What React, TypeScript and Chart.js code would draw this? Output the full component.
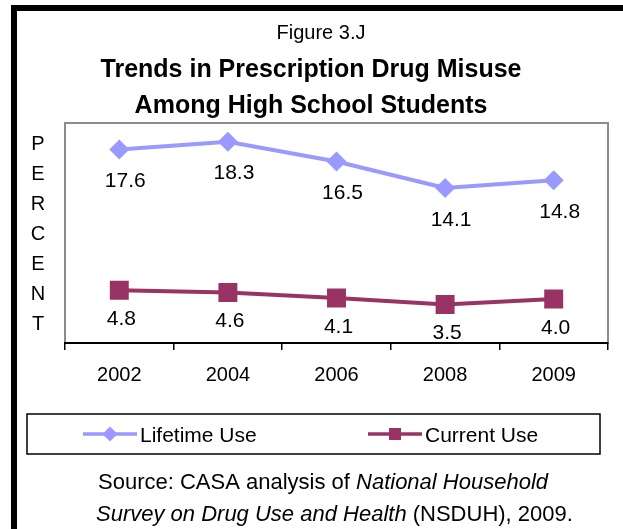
import React, { useEffect, useRef } from 'react';
import { Chart, registerables } from 'chart.js';

Chart.register(...registerables);

const years = ['2002', '2004', '2006', '2008', '2009'];
const lifetimeUse = [17.6, 18.3, 16.5, 14.1, 14.8];
const currentUse = [4.8, 4.6, 4.1, 3.5, 4.0];
const seriesLabels = ['Lifetime Use', 'Current Use'];
const figureLabel = 'Figure 3.J';
const titleLines = ['Trends in Prescription Drug Misuse', 'Among High School Students'];
const yAxisLabel = 'PERCENT';
const sourceLine1 = [
  { text: 'Source: CASA analysis of ', italic: false },
  { text: 'National Household', italic: true },
];
const sourceLine2 = [
  { text: 'Survey on Drug Use and Health', italic: true },
  { text: ' (NSDUH), 2009.', italic: false },
];
const yMin = 0;
const yMax = 20;

const FONT = '"Liberation Sans", Arial, Helvetica, sans-serif';
const LIFE_COLOR = '#9999FF';
const CURR_COLOR = '#993366';

function drawMarker(ctx: CanvasRenderingContext2D, kind: number, x: number, y: number, r: number, color: string) {
  ctx.fillStyle = color;
  ctx.beginPath();
  if (kind === 0) {
    ctx.moveTo(x - r, y);
    ctx.lineTo(x, y - r);
    ctx.lineTo(x + r, y);
    ctx.lineTo(x, y + r);
    ctx.closePath();
  } else {
    ctx.rect(x - r, y - r, 2 * r, 2 * r);
  }
  ctx.fill();
}

const textPlugin = {
  id: 'figureText',
  beforeDraw(chart: any) {
    const ctx: CanvasRenderingContext2D = chart.ctx;
    ctx.save();
    ctx.fillStyle = '#ffffff';
    ctx.fillRect(0, 0, chart.width, chart.height);
    // outer frame
    ctx.strokeStyle = '#000000';
    ctx.lineWidth = 6;
    ctx.strokeRect(14, 8, chart.width + 60, chart.height + 60);
    // titles
    ctx.fillStyle = '#000000';
    ctx.textAlign = 'center';
    ctx.textBaseline = 'alphabetic';
    ctx.font = `20px ${FONT}`;
    ctx.fillText(figureLabel, 321, 39);
    ctx.font = `bold 25px ${FONT}`;
    ctx.fillText(titleLines[0], 311, 77);
    ctx.fillText(titleLines[1], 311, 113);
    // vertical PERCENT
    ctx.font = `20px ${FONT}`;
    yAxisLabel.split('').forEach((ch, i) => ctx.fillText(ch, 38, 150 + i * 30));
    // plot area border
    const a = chart.chartArea;
    ctx.strokeStyle = '#8c8c8c';
    ctx.lineWidth = 2;
    ctx.strokeRect(a.left, a.top, a.right - a.left, a.bottom - a.top);
    // source text
    ctx.textAlign = 'left';
    ctx.fillStyle = '#000000';
    const drawRuns = (runs: { text: string; italic: boolean }[], x: number, y: number) => {
      let cx = x;
      runs.forEach((r) => {
        ctx.font = `${r.italic ? 'italic ' : ''}22px ${FONT}`;
        ctx.fillText(r.text, cx, y);
        cx += ctx.measureText(r.text).width;
      });
    };
    drawRuns(sourceLine1, 98, 489);
    drawRuns(sourceLine2, 96, 521);
    ctx.restore();
  },
};

const labelPlugin = {
  id: 'valueLabels',
  afterDatasetsDraw(chart: any) {
    const ctx: CanvasRenderingContext2D = chart.ctx;
    ctx.save();
    ctx.fillStyle = '#000000';
    ctx.font = `21px ${FONT}`;
    ctx.textAlign = 'center';
    ctx.textBaseline = 'middle';
    const offsets = [
      { dx: 6, dy: 32 },
      { dx: 2, dy: 29 },
    ];
    chart.data.datasets.forEach((ds: any, di: number) => {
      const meta = chart.getDatasetMeta(di);
      meta.data.forEach((el: any, i: number) => {
        const v = ds.data[i] as number;
        ctx.fillText(v.toFixed(1), el.x + offsets[di].dx, el.y + offsets[di].dy);
      });
    });
    ctx.restore();
  },
};

const legendPlugin = {
  id: 'boxedLegend',
  afterDraw(chart: any) {
    const ctx: CanvasRenderingContext2D = chart.ctx;
    ctx.save();
    ctx.strokeStyle = '#000000';
    ctx.lineWidth = 1.5;
    ctx.strokeRect(27, 414, 573, 40);
    const starts = [83, 368];
    const cy = 434;
    chart.data.datasets.forEach((ds: any, i: number) => {
      const x0 = starts[i];
      ctx.strokeStyle = ds.borderColor;
      ctx.lineWidth = 3.5;
      ctx.beginPath();
      ctx.moveTo(x0, cy);
      ctx.lineTo(x0 + 54, cy);
      ctx.stroke();
      drawMarker(ctx, i, x0 + 27, cy, i === 0 ? 7.5 : 6, ds.borderColor);
      ctx.fillStyle = '#000000';
      ctx.font = `21px ${FONT}`;
      ctx.textAlign = 'left';
      ctx.textBaseline = 'alphabetic';
      ctx.fillText(ds.label, x0 + 57, cy + 7.5);
    });
    ctx.restore();
  },
};

export default function App() {
  const ref = useRef<HTMLCanvasElement | null>(null);

  useEffect(() => {
    if (!ref.current) return;
    const chart = new Chart(ref.current, {
      type: 'line',
      data: {
        labels: years,
        datasets: [
          {
            label: seriesLabels[0],
            data: lifetimeUse,
            borderColor: LIFE_COLOR,
            backgroundColor: LIFE_COLOR,
            borderWidth: 4,
            pointStyle: 'rectRot',
            pointRadius: 10,
            pointBackgroundColor: LIFE_COLOR,
            pointBorderColor: LIFE_COLOR,
            pointBorderWidth: 0,
            tension: 0,
          },
          {
            label: seriesLabels[1],
            data: currentUse,
            borderColor: CURR_COLOR,
            backgroundColor: CURR_COLOR,
            borderWidth: 4,
            pointStyle: 'rect',
            pointRadius: 13.4,
            pointBackgroundColor: CURR_COLOR,
            pointBorderColor: CURR_COLOR,
            pointBorderWidth: 0,
            tension: 0,
          },
        ],
      },
      options: {
        responsive: false,
        animation: false,
        layout: { padding: { left: 65, right: 15, top: 123, bottom: 146 } },
        plugins: {
          legend: { display: false },
          title: { display: false },
          tooltip: { enabled: false },
        },
        scales: {
          x: {
            offset: true,
            grid: {
              display: true,
              offset: true,
              drawOnChartArea: false,
              drawTicks: true,
              tickLength: 7,
              color: '#000000',
              lineWidth: 1.5,
            },
            border: { display: true, color: '#000000', width: 2 },
            ticks: {
              color: '#000000',
              font: { family: FONT, size: 20 },
              padding: 13,
              maxRotation: 0,
              autoSkip: false,
            },
            afterFit: (s: any) => {
              s.height = 40;
            },
          },
          y: { display: false, min: yMin, max: yMax },
        },
      },
      plugins: [textPlugin, labelPlugin, legendPlugin],
    });
    return () => chart.destroy();
  }, []);

  return (
    <div style={{ position: 'absolute', left: 0, top: 0, width: 623, height: 529 }}>
      <canvas ref={ref} width={623} height={529} style={{ display: 'block' }} />
    </div>
  );
}
